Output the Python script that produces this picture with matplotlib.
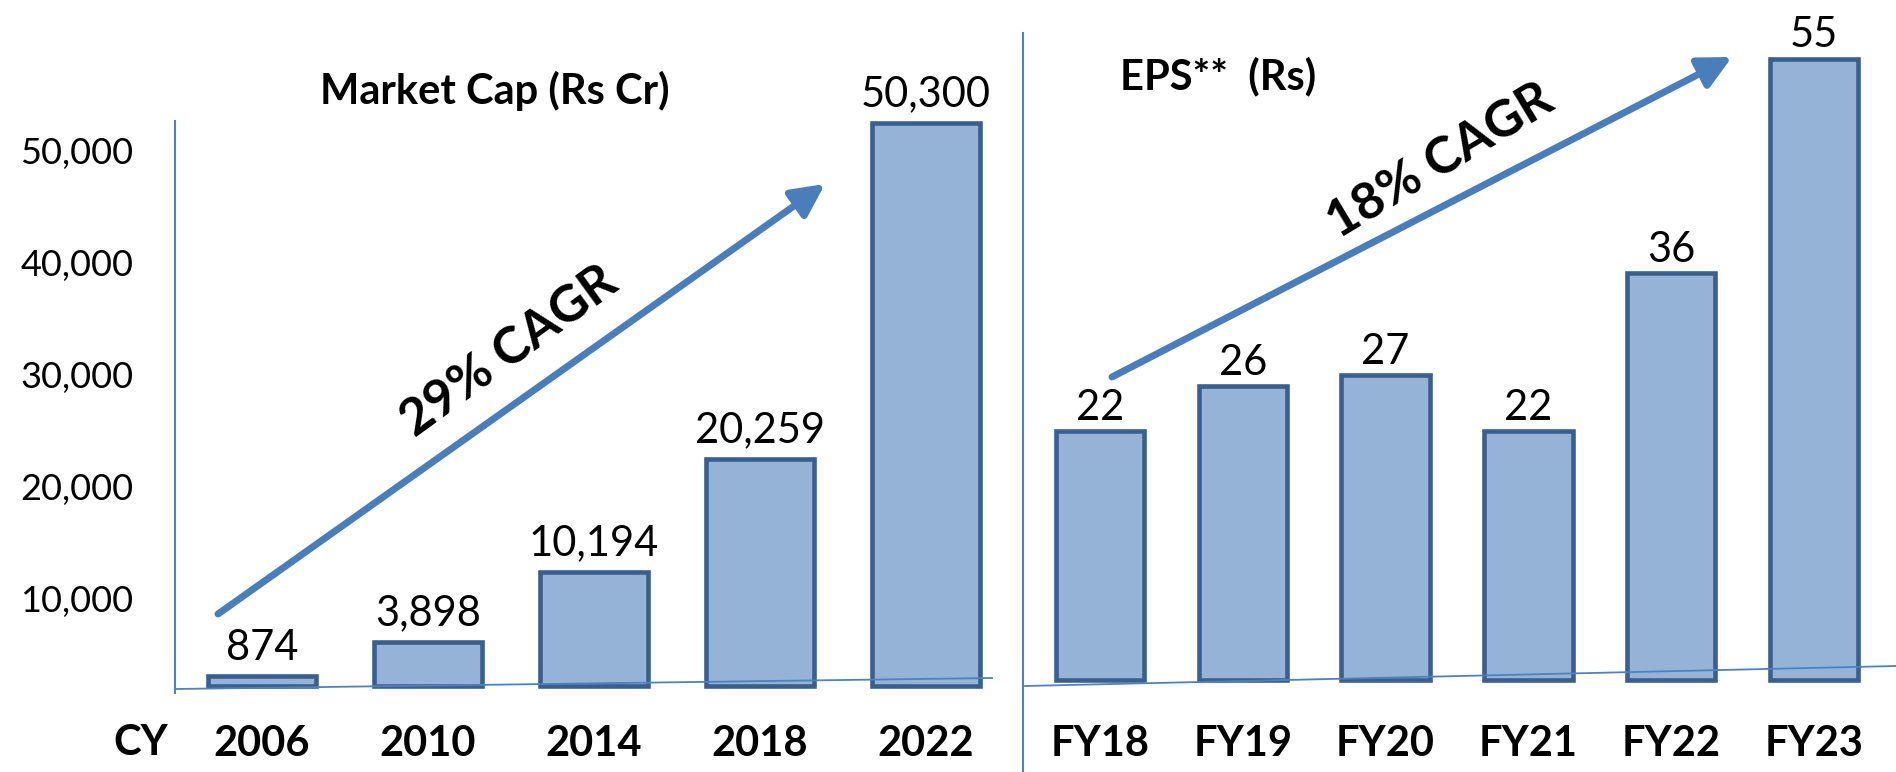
import matplotlib
matplotlib.use("Agg")
import matplotlib.pyplot as plt
from matplotlib.transforms import ScaledTranslation
from matplotlib.lines import Line2D
from matplotlib.patches import FancyArrowPatch

# ---------------- data ----------------
mcap_years = ["2006", "2010", "2014", "2018", "2022"]
mcap_values = [874, 3898, 10194, 20259, 50300]
mcap_value_labels = ["874", "3,898", "10,194", "20,259", "50,300"]
mcap_ticks = [10000, 20000, 30000, 40000, 50000]
mcap_tick_labels = ["10,000", "20,000", "30,000", "40,000", "50,000"]

eps_years = ["FY18", "FY19", "FY20", "FY21", "FY22", "FY23"]
eps_values = [22, 26, 27, 22, 36, 55]
eps_value_labels = ["22", "26", "27", "22", "36", "55"]

mcap_title = "Market Cap (Rs Cr)"
eps_title = "EPS**  (Rs)"
mcap_cagr = "29% CAGR"
eps_cagr = "18% CAGR"
period_prefix = "CY"

# ---------------- style ----------------
W, H, DPI = 1896, 772, 100
FILL = "#95B3D7"
EDGE = "#3A5F8F"
LINE = "#4F81BD"
ARROW = "#4A7EBB"
plt.rcParams["font.family"] = ["Lato", "DejaVu Sans"]

fig = plt.figure(figsize=(W / DPI, H / DPI), dpi=DPI, facecolor="white")


def fx(x):
    return x / W


def fy(y):
    return 1 - y / H


def axes_px(left, top, right, bottom):
    return fig.add_axes([fx(left), fy(bottom), (right - left) / W, (bottom - top) / H])


# ---------------- left panel: market cap ----------------
ax1 = axes_px(175, 121, 1010, 693)
x1 = list(range(len(mcap_years)))
ax1.bar(x1, mcap_values, width=0.65, color=FILL, edgecolor=EDGE, linewidth=3.3, zorder=3)
for xi, v, lab in zip(x1, mcap_values, mcap_value_labels):
    ax1.annotate(lab, (xi, v), xytext=(0, 12), textcoords="offset points",
                 ha="center", va="baseline", fontsize=30)
ax1.set_xlim(-0.524, 4.506)
ax1.set_ylim(-625, 50446)
ax1.set_yticks(mcap_ticks, mcap_tick_labels)
ax1.set_xticks(x1, mcap_years, fontweight="bold")
ax1.tick_params(axis="y", length=0, pad=30, labelsize=26)
ax1.tick_params(axis="x", length=0, pad=23, labelsize=30)
for lab in ax1.get_yticklabels():
    lab.set_transform(lab.get_transform() + ScaledTranslation(0, -0.25, fig.dpi_scale_trans))
for s in ["top", "right", "bottom"]:
    ax1.spines[s].set_visible(False)
ax1.spines["left"].set_color(LINE)
ax1.spines["left"].set_linewidth(1.5)
ax1.patch.set_alpha(0)

# ---------------- right panel: EPS ----------------
ax2 = axes_px(1025, 33, 1896, 693)
x2 = list(range(len(eps_years)))
ax2.bar(x2, eps_values, width=0.62, color=FILL, edgecolor=EDGE, linewidth=3.3, zorder=3)
for xi, v, lab in zip(x2, eps_values, eps_value_labels):
    ax2.annotate(lab, (xi, v), xytext=(0, 8), textcoords="offset points",
                 ha="center", va="baseline", fontsize=30)
ax2.set_xlim(-0.525, 5.574)
ax2.set_ylim(-1.15, 57.26)
ax2.set_yticks([])
ax2.set_xticks(x2, eps_years, fontweight="bold")
ax2.tick_params(axis="x", length=0, pad=23, labelsize=30)
for s in ax2.spines.values():
    s.set_visible(False)
ax2.patch.set_alpha(0)

# ---------------- decorations ----------------
fig.add_artist(Line2D([fx(175), fx(992)], [fy(689), fy(678)], color=LINE, lw=1.3, zorder=5))
fig.add_artist(Line2D([fx(1025), fx(1896)], [fy(686), fy(666)], color=LINE, lw=1.3, zorder=5))
fig.add_artist(Line2D([fx(1023), fx(1023)], [fy(33), fy(772)], color=LINE, lw=1.5, zorder=5))

for (xa, ya), (xb, yb) in [((218, 614), (825, 184)), ((1112, 377), (1732, 57))]:
    fig.add_artist(FancyArrowPatch((fx(xa), fy(ya)), (fx(xb), fy(yb)),
                                   transform=fig.transFigure,
                                   arrowstyle="-|>,head_length=0.9,head_width=0.45",
                                   mutation_scale=22, lw=5, color=ARROW,
                                   shrinkA=0, shrinkB=0, zorder=6))

fig.text(fx(509), fy(352), mcap_cagr, rotation=36, rotation_mode="anchor",
         ha="center", va="center", fontsize=37, fontweight="bold")
fig.text(fx(1440), fy(161), eps_cagr, rotation=31, rotation_mode="anchor",
         ha="center", va="center", fontsize=37, fontweight="bold")

fig.text(fx(495), fy(104), mcap_title, ha="center", va="baseline",
         fontsize=30, fontweight="bold")
fig.text(fx(1120), fy(89), eps_title, ha="left", va="baseline",
         fontsize=30, fontweight="bold")
fig.text(fx(141), fy(755), period_prefix, ha="center", va="baseline",
         fontsize=30, fontweight="bold")

fig.savefig("out.png", dpi=DPI, facecolor="white")
